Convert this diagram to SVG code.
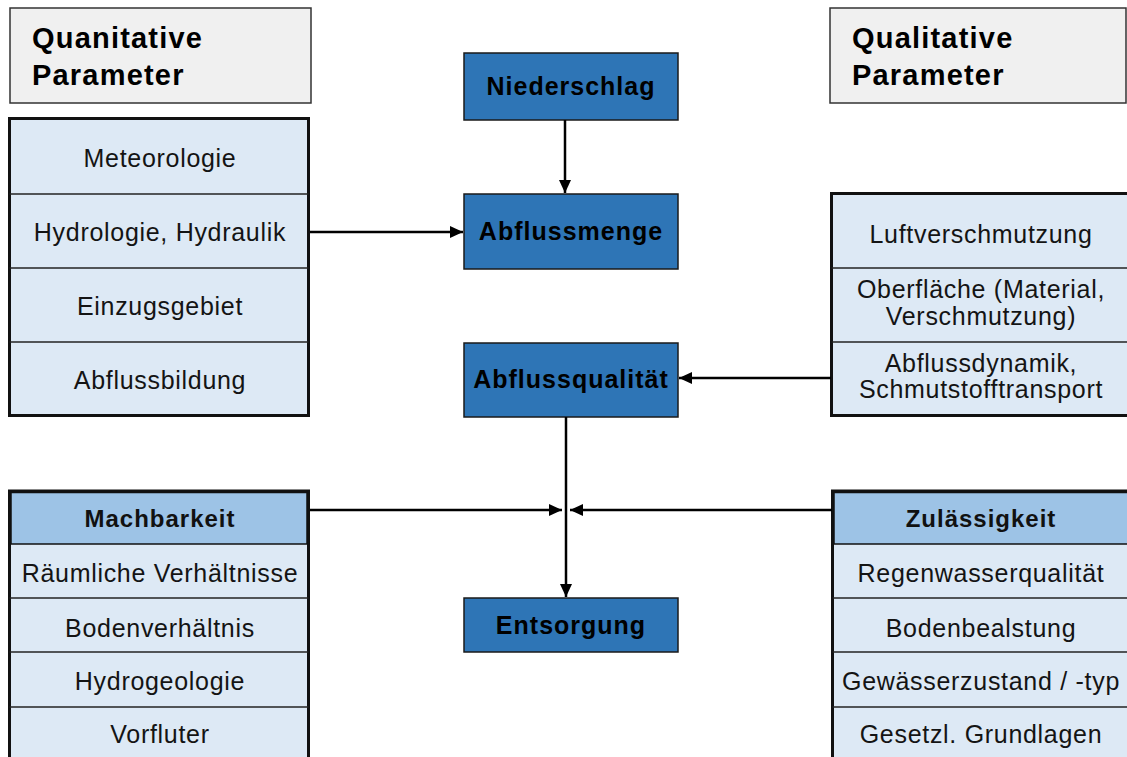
<svg xmlns="http://www.w3.org/2000/svg" width="1127" height="757" viewBox="0 0 1127 757">
<defs>
<style>
.hdr{fill:#f0f0f0;stroke:#333;stroke-width:1.5}
.ht{font-family:"Liberation Sans",Arial,sans-serif;font-weight:bold;font-size:29px;letter-spacing:1.2px;fill:#000}
.pbox{fill:#dde9f5;stroke:#111;stroke-width:3}
.phead{fill:#9dc3e6;stroke:#111;stroke-width:1.5}
.div{stroke:#222;stroke-width:1.5}
.pt{font-family:"Liberation Sans",Arial,sans-serif;font-size:25px;letter-spacing:0.7px;fill:#141414;text-anchor:middle}
.pb{font-family:"Liberation Sans",Arial,sans-serif;font-size:24px;font-weight:bold;letter-spacing:1px;fill:#111;text-anchor:middle}
.blue{fill:#2e75b6;stroke:#1a1a1a;stroke-width:1.5}
.bt{font-family:"Liberation Sans",Arial,sans-serif;font-size:25px;font-weight:bold;letter-spacing:1px;fill:#000;text-anchor:middle}
.con{stroke:#000;stroke-width:2.5;fill:none}
</style>
<marker id="ah" markerUnits="userSpaceOnUse" markerWidth="13" markerHeight="12" refX="13" refY="6" orient="auto">
<path d="M0,0 L13,6 L0,12 z" fill="#000"/>
</marker>
</defs>
<rect width="1127" height="757" fill="#fff"/>

<g id="quant-header">
<rect class="hdr" x="10" y="8" width="301" height="95"/>
<text class="ht" x="32" y="48">Quanitative</text>
<text class="ht" x="32" y="85">Parameter</text>
</g>

<g id="qual-header">
<rect class="hdr" x="830" y="8" width="296" height="95"/>
<text class="ht" x="852" y="48">Qualitative</text>
<text class="ht" x="852" y="85">Parameter</text>
</g>

<g id="quant-params">
<rect class="pbox" x="9.5" y="118.5" width="299" height="297"/>
<line class="div" x1="9.5" y1="194" x2="308.5" y2="194"/>
<line class="div" x1="9.5" y1="268" x2="308.5" y2="268"/>
<line class="div" x1="9.5" y1="342" x2="308.5" y2="342"/>
<text class="pt" x="160" y="167">Meteorologie</text>
<text class="pt" x="160" y="241">Hydrologie, Hydraulik</text>
<text class="pt" x="160" y="315">Einzugsgebiet</text>
<text class="pt" x="160" y="389">Abflussbildung</text>
</g>

<g id="qual-params">
<rect class="pbox" x="831.5" y="193.5" width="300" height="222"/>
<line class="div" x1="831.5" y1="268" x2="1131" y2="268"/>
<line class="div" x1="831.5" y1="342" x2="1131" y2="342"/>
<text class="pt" x="981" y="243">Luftverschmutzung</text>
<text class="pt" x="981" y="298">Oberfläche (Material,</text>
<text class="pt" x="981" y="325">Verschmutzung)</text>
<text class="pt" x="981" y="372">Abflussdynamik,</text>
<text class="pt" x="981" y="398">Schmutstofftransport</text>
</g>

<g id="machbarkeit">
<rect class="pbox" x="9.5" y="491" width="299" height="290"/>
<rect class="phead" x="11" y="492.5" width="296" height="51.5"/>
<line class="div" x1="9.5" y1="598" x2="308.5" y2="598"/>
<line class="div" x1="9.5" y1="652" x2="308.5" y2="652"/>
<line class="div" x1="9.5" y1="707" x2="308.5" y2="707"/>
<text class="pb" x="160" y="527">Machbarkeit</text>
<text class="pt" x="160" y="582">Räumliche Verhältnisse</text>
<text class="pt" x="160" y="637">Bodenverhältnis</text>
<text class="pt" x="160" y="690">Hydrogeologie</text>
<text class="pt" x="160" y="743">Vorfluter</text>
</g>

<g id="zulaessigkeit">
<rect class="pbox" x="832.5" y="491" width="300" height="290"/>
<rect class="phead" x="834" y="492.5" width="297" height="51.5"/>
<line class="div" x1="832.5" y1="598" x2="1131" y2="598"/>
<line class="div" x1="832.5" y1="652" x2="1131" y2="652"/>
<line class="div" x1="832.5" y1="707" x2="1131" y2="707"/>
<text class="pb" x="981" y="527">Zulässigkeit</text>
<text class="pt" x="981" y="582">Regenwasserqualität</text>
<text class="pt" x="981" y="637">Bodenbealstung</text>
<text class="pt" x="981" y="690">Gewässerzustand / -typ</text>
<text class="pt" x="981" y="743">Gesetzl. Grundlagen</text>
</g>

<g id="niederschlag">
<rect class="blue" x="464" y="53" width="214" height="67"/>
<text class="bt" x="571" y="95">Niederschlag</text>
</g>

<g id="abflussmenge">
<rect class="blue" x="464" y="194" width="214" height="75"/>
<text class="bt" x="571" y="240">Abflussmenge</text>
</g>

<g id="abflussqualitaet">
<rect class="blue" x="464" y="343" width="214" height="74"/>
<text class="bt" x="571" y="388">Abflussqualität</text>
</g>

<g id="entsorgung">
<rect class="blue" x="464" y="598" width="214" height="54"/>
<text class="bt" x="571" y="634">Entsorgung</text>
</g>

<g id="connectors">
<line class="con" x1="565" y1="120" x2="565" y2="193" marker-end="url(#ah)"/>
<line class="con" x1="310" y1="232" x2="463" y2="232" marker-end="url(#ah)"/>
<line class="con" x1="831" y1="378" x2="679" y2="378" marker-end="url(#ah)"/>
<line class="con" x1="566" y1="417" x2="566" y2="597" marker-end="url(#ah)"/>
<line class="con" x1="310" y1="510" x2="562" y2="510" marker-end="url(#ah)"/>
<line class="con" x1="832" y1="510" x2="570" y2="510" marker-end="url(#ah)"/>
</g>
</svg>
